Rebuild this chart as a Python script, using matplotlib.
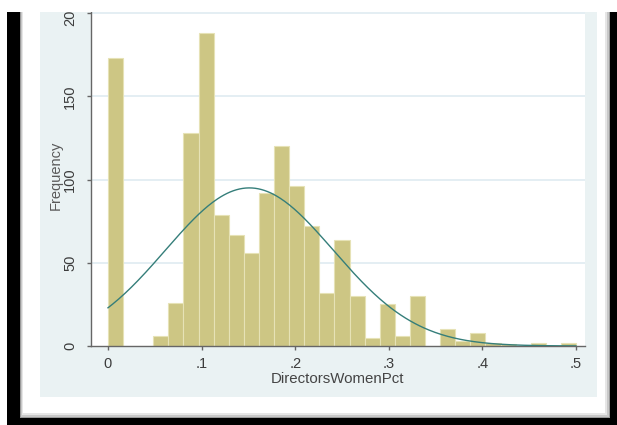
import numpy as np
import matplotlib.pyplot as plt
from matplotlib.patches import Rectangle

# Histogram counts (31 bins from 0 to .5)
counts = [173, 0, 0, 6, 26, 128, 188, 79, 67, 56,
          92, 120, 96, 72, 32, 64, 30, 5, 25, 6,
          30, 0, 10, 3, 8, 2, 1, 0, 2, 0, 2]
bin_start = 0.0
bin_end = 0.5

# normal curve overlay (Stata "normal" option)
curve_mean = 0.151
curve_sd = 0.0896

x_ticks = [0, 0.1, 0.2, 0.3, 0.4, 0.5]
x_ticklabels = ['0', '.1', '.2', '.3', '.4', '.5']
y_ticks = [0, 50, 100, 150, 200]
y_ticklabels = ['0', '50', '100', '150', '200']

W, H = 617, 425
fig = plt.figure(figsize=(W / 100, H / 100), dpi=100)
fig.patch.set_facecolor('white')

font = ['Liberation Sans', 'DejaVu Sans']


def px_rect(x0, y0, x1, y1, color, z=0):
    # rectangle in image pixels, y measured from the top
    r = Rectangle((x0 / W, 1 - y1 / H), (x1 - x0) / W, (y1 - y0) / H,
                  transform=fig.transFigure, facecolor=color,
                  edgecolor='none', zorder=z)
    fig.add_artist(r)


# screenshot frame with shadow
px_rect(7, 12, 617, 425, 'black', -5)
px_rect(20, 12, 610, 418, '#9a9a9a', -5)
px_rect(21, 12, 608.5, 416.5, '#c8c8c8', -5)
px_rect(22, 12, 607, 415, '#e6e6e6', -5)
px_rect(23, 12, 605, 413, 'white', -5)
px_rect(39.5, 12, 597, 397, '#EAF2F3', -5)

ax = fig.add_axes([91 / W, 1 - 346 / H, 494 / W, 334 / H])
ax.set_facecolor('white')

n_bins = len(counts)
width = (bin_end - bin_start) / n_bins
edges = np.linspace(bin_start, bin_end, n_bins + 1)

for yv in y_ticks[1:]:
    ax.axhline(yv, color='#E2EDF2', lw=1.3, zorder=1)

ax.bar(edges[:-1], counts, width=width, align='edge', color='#CDC684',
       edgecolor='#E6E2B6', linewidth=0.8, zorder=2)

n_obs = sum(counts)
xs = np.linspace(bin_start, bin_end, 300)
dens = np.exp(-0.5 * ((xs - curve_mean) / curve_sd) ** 2) / (curve_sd * np.sqrt(2 * np.pi))
ax.plot(xs, n_obs * width * dens, color='#357E7A', lw=1.0, zorder=3)

ax.set_xlim((91 - 108) / 936, (585 - 108) / 936)
ax.set_ylim(0, 334 / 1.664)

for s in ['top', 'right']:
    ax.spines[s].set_visible(False)
for s in ['left', 'bottom']:
    ax.spines[s].set_color('#666666')
    ax.spines[s].set_linewidth(1.0)

ax.set_xticks(x_ticks)
ax.set_xticklabels(x_ticklabels, fontfamily=font, fontsize=10.5, color='#3c3c3c')
ax.set_yticks(y_ticks)
ax.set_yticklabels(y_ticklabels, fontfamily=font, fontsize=10.5, color='#3c3c3c',
                   rotation=90, va='center')
ax.tick_params(axis='both', colors='#666666', length=3, width=1.0)
ax.tick_params(axis='x', pad=5, labelcolor='#3c3c3c')
ax.tick_params(axis='y', pad=7, labelcolor='#3c3c3c')

ax.set_xlabel('DirectorsWomenPct', fontfamily=font, fontsize=10.8, color='#444444')
ax.xaxis.set_label_coords(0.5, -(379 - 346) / 334)
ax.xaxis.label.set_va('center')
ax.set_ylabel('Frequency', fontfamily=font, fontsize=10.5, color='#5a5a5a')
ax.yaxis.set_label_coords((56 - 91) / 494, (346 - 175) / 334)
ax.yaxis.label.set_va('center')

# screenshot is cut off at the top
px_rect(0, 0, 617, 12, 'white', 10)

fig.savefig('out.png', dpi=100, facecolor='white')
